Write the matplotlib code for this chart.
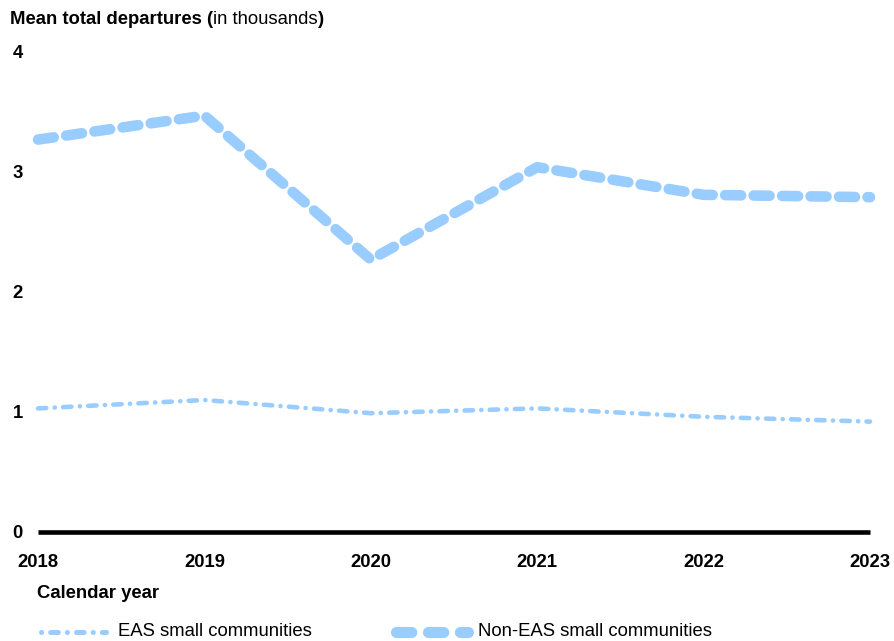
import matplotlib
matplotlib.use("Agg")
import matplotlib.pyplot as plt
from matplotlib.lines import Line2D

plt.rcParams['font.family'] = ['Liberation Sans', 'DejaVu Sans']
plt.rcParams['lines.scale_dashes'] = False

years = [2018, 2019, 2020, 2021, 2022, 2023]
eas = [1.03, 1.10, 0.99, 1.03, 0.96, 0.92]
non_eas = [3.27, 3.47, 2.27, 3.04, 2.81, 2.79]
yticks = [0, 1, 2, 3, 4]
series_names = ['EAS small communities', 'Non-EAS small communities']

color = '#99CCFF'
FS = 13.3
W, H = 894, 641
fig = plt.figure(figsize=(W / 100, H / 100), dpi=100)
ax = fig.add_axes([38 / W, (H - 532) / H, 832 / W, 480 / H])

eas_style = dict(color=color, lw=3.3, dash_capstyle='round',
                 solid_capstyle='round', dashes=(6.0, 6, 0.1, 6))
non_style = dict(color=color, lw=7.6, dash_capstyle='round',
                 solid_capstyle='round', dashes=(11.5, 9.0))

ax.plot(years, eas, clip_on=False, **eas_style)
ax.plot(years, non_eas, clip_on=False, **non_style)

ax.set_xlim(2018, 2023)
ax.set_ylim(0, 4)
for s in ['top', 'right', 'left']:
    ax.spines[s].set_visible(False)
ax.spines['bottom'].set_linewidth(3.3)
ax.spines['bottom'].set_color('black')
ax.spines['bottom'].set_capstyle('butt')

ax.set_xticks(years)
ax.set_xticklabels([str(y) for y in years], fontsize=FS, fontweight='bold')
ax.set_yticks(yticks)
ax.set_yticklabels([str(v) for v in yticks], fontsize=FS, fontweight='bold')
ax.tick_params(axis='x', length=0, pad=16)
ax.tick_params(axis='y', length=0, pad=11)


def text_run(x_px, y_px, parts):
    """Draw consecutive text pieces with mixed weights on one baseline."""
    x = x_px
    for s, weight in parts:
        t = fig.text(x / W, 1 - y_px / H, s, fontsize=FS, fontweight=weight,
                     va='center', ha='left')
        fig.canvas.draw()
        x = t.get_window_extent().x1


text_run(10, 20, [('Mean total departures (', 'bold'),
                  ('in thousands', 'normal'), (')', 'bold')])

fig.text(37 / W, 1 - 594 / H, 'Calendar year', fontsize=FS,
         fontweight='bold', va='center', ha='left')

# legend drawn as sample strokes plus labels
ly = 1 - 632 / H
fig.add_artist(Line2D([41 / W, 106 / W], [ly, ly], transform=fig.transFigure,
                      color=color, lw=3.6, dash_capstyle='round',
                      dashes=(0.1, 6.5, 5.5, 6.5)))
fig.text(118 / W, ly, series_names[0], fontsize=FS, va='center', ha='left')
fig.add_artist(Line2D([396 / W, 468 / W], [ly, ly], transform=fig.transFigure,
                      color=color, lw=8.0, dash_capstyle='round',
                      dashes=(11.0, 12.0)))
fig.text(478 / W, ly, series_names[1], fontsize=FS, va='center', ha='left')

fig.savefig('out.png', dpi=100)
